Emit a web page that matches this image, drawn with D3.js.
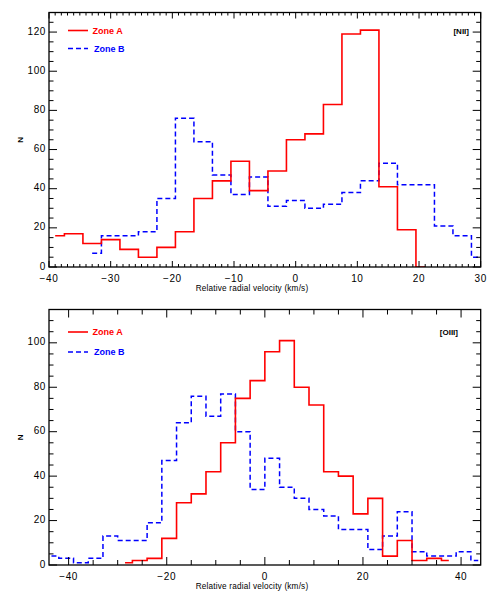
<!DOCTYPE html>
<html><head><meta charset="utf-8">
<script src="https://cdn.jsdelivr.net/npm/d3@7"></script>
<style>
body{margin:0;background:#fff;}
svg{display:block;}
text{font-family:"Liberation Sans",Arial,Helvetica,sans-serif;}
</style></head>
<body>
<svg id="c" width="491" height="608"></svg>
<script>
// ---- Data ----
// Panel 1: [NII]
const niiRedVel = [-39,-36,-33,-30,-27,-24,-21,-18,-15,-12,-9,-6,-3,0,3,6,9,12,15,18,21];
const niiRedN   = [16,17,12,14,9,5,10,18,35,44,54,39,49,65,68,83,119,121,41,19,0];
const niiBlueVel = [-33,-30,-27,-24,-21,-18,-15,-12,-9,-6,-3,0,3,6,9,12,15,18,21,24,27,30];
const niiBlueN   = [7,16,16,18,35,76,64,47,37,46,31,34,30,32,38,44,53,42,42,21,16,5];
const niiXTicks = [-40,-30,-20,-10,0,10,20,30];
const niiYTicks = [0,20,40,60,80,100,120];
// Panel 2: [OIII]
const oiiiRedVel = [-28.5,-25.5,-22.5,-19.5,-16.5,-13.5,-10.5,-7.5,-4.5,-1.5,1.5,4.5,7.5,10.5,13.5,16.5,19.5,22.5,25.5,28.5,31.5,34.5,37.5];
const oiiiRedN   = [1,2,3,12,28,32,42,55,75,83,96,101,80,72,42,40,23,30,4,11,2,3,2];
const oiiiBlueVel = [-43.5,-40.5,-37.5,-34.5,-31.5,-28.5,-25.5,-22.5,-19.5,-16.5,-13.5,-10.5,-7.5,-4.5,-1.5,1.5,4.5,7.5,10.5,13.5,16.5,19.5,22.5,25.5,28.5,31.5,34.5,37.5,40.5,43.5];
const oiiiBlueN   = [4,3,1,3,13,11,11,19,47,64,76,67,77,60,34,48,35,30,25,22,16,16,7,13,24,6,4,4,6,2];
const oiiiXTicks = [-40,-20,0,20,40];
const oiiiYTicks = [0,20,40,60,80,100];

const seriesNames = ["Zone A","Zone B"];
const xTitle = "Relative radial velocity (km/s)";
const yTitle = "N";

const svg = d3.select("#c");
const fmt = v => (v<0 ? "\u2212" : "") + Math.abs(v);

function panel(cfg){
  const {left,right,top,bottom,xDom,yDom,xTicks,xMinor,yTicks,yMinor,xMajLen,xMinLen,label,
         red,blue,legY,id} = cfg;
  const x = d3.scaleLinear().domain(xDom).range([left,right]);
  const y = d3.scaleLinear().domain(yDom).range([bottom,top]);
  const g = svg.append("g");
  g.append("clipPath").attr("id",id).append("rect")
    .attr("x",left).attr("y",top).attr("width",right-left).attr("height",bottom-top);

  const line = d3.line().x(d=>x(d[0])).y(d=>y(d[1])).curve(d3.curveStep);
  g.append("path").datum(d3.zip(blue[0],blue[1]))
    .attr("d",line).attr("fill","none").attr("stroke","#0000ff").attr("stroke-width",1.5)
    .attr("stroke-dasharray","5,3").attr("clip-path",`url(#${id})`);
  g.append("path").datum(d3.zip(red[0],red[1]))
    .attr("d",line).attr("fill","none").attr("stroke","#ff0000").attr("stroke-width",1.6)
    .attr("clip-path",`url(#${id})`);

  // frame
  g.append("rect").attr("x",left).attr("y",top).attr("width",right-left).attr("height",bottom-top)
    .attr("fill","none").attr("stroke","#000").attr("stroke-width",1.3);

  const tk = g.append("g").attr("stroke","#000").attr("stroke-width",1);
  // x ticks (bottom and top, inward)
  xMinor.forEach(v=>{
    const major = xTicks.includes(v);
    const L = major? xMajLen : xMinLen;
    tk.append("line").attr("x1",x(v)).attr("x2",x(v)).attr("y1",bottom).attr("y2",bottom-L);
    tk.append("line").attr("x1",x(v)).attr("x2",x(v)).attr("y1",top).attr("y2",top+L);
  });
  yMinor.forEach(v=>{
    const major = yTicks.includes(v);
    const L = major? 8 : 4.5;
    tk.append("line").attr("x1",left).attr("x2",left+L).attr("y1",y(v)).attr("y2",y(v));
    tk.append("line").attr("x1",right).attr("x2",right-L).attr("y1",y(v)).attr("y2",y(v));
  });
  // labels
  xTicks.forEach(v=>{
    g.append("text").attr("x",x(v)).attr("y",bottom+15).attr("text-anchor","middle")
      .attr("font-size",10).attr("letter-spacing",0.6).text(fmt(v));
  });
  yTicks.forEach(v=>{
    g.append("text").attr("x",left-3).attr("y",y(v)+2.5).attr("text-anchor","end")
      .attr("font-size",10).attr("letter-spacing",0.6).text(fmt(v));
  });
  g.append("text").attr("x",252).attr("y",bottom+24).attr("text-anchor","middle")
    .attr("font-size",8.2).attr("letter-spacing",0.2).text(xTitle);
  g.append("text").attr("transform",`translate(23,${(top+bottom)/2}) rotate(-90)`)
    .attr("text-anchor","middle").attr("font-size",8).attr("font-weight","bold").text(yTitle);
  g.append("text").attr("x",cfg.labelX).attr("y",legY[0]+3).attr("text-anchor","end")
    .attr("font-size",8).attr("font-weight","bold").text(label);

  // legend
  const lg = g.append("g");
  lg.append("line").attr("x1",68).attr("x2",88).attr("y1",legY[0]).attr("y2",legY[0])
    .attr("stroke","#ff0000").attr("stroke-width",1.6);
  lg.append("text").attr("x",92.5).attr("y",legY[0]+3).attr("fill","#ff0000")
    .attr("font-size",9).attr("font-weight","bold").text(seriesNames[0]);
  lg.append("line").attr("x1",68).attr("x2",88).attr("y1",legY[1]).attr("y2",legY[1])
    .attr("stroke","#0000ff").attr("stroke-width",1.5).attr("stroke-dasharray","5,3");
  lg.append("text").attr("x",94).attr("y",legY[1]+3).attr("fill","#0000ff")
    .attr("font-size",9).attr("font-weight","bold").text(seriesNames[1]);
}

panel({id:"clipA",left:49,right:480.7,top:12.5,bottom:267,xDom:[-40,30],yDom:[0,130],
  xTicks:niiXTicks,xMinor:d3.range(-40,31,1),yTicks:niiYTicks,yMinor:d3.range(0,131,5),
  xMajLen:6,xMinLen:3,label:"[NII]",labelX:469,
  red:[niiRedVel,niiRedN],blue:[niiBlueVel,niiBlueN],legY:[30.5,48.5]});

panel({id:"clipB",left:49,right:480.7,top:309.5,bottom:565,xDom:[-44,44],yDom:[0,115],
  xTicks:oiiiXTicks,xMinor:d3.range(-40,41,5),yTicks:oiiiYTicks,yMinor:d3.range(0,116,5),
  xMajLen:8,xMinLen:5,label:"[OIII]",labelX:458,
  red:[oiiiRedVel,oiiiRedN],blue:[oiiiBlueVel,oiiiBlueN],legY:[332,352]});
</script>
</body></html>
